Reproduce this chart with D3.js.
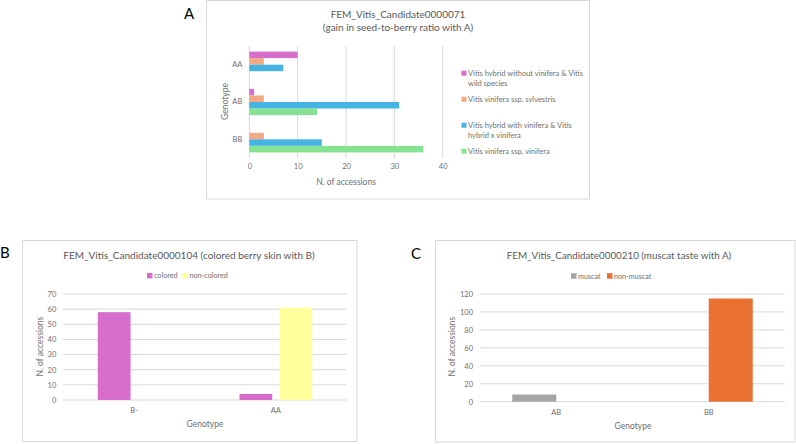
<!DOCTYPE html>
<meta charset="utf-8">
<script src="https://cdnjs.cloudflare.com/ajax/libs/d3/7.8.5/d3.min.js"></script>
<style>
body { margin: 0; background: #fff; }
text { font-family: Lato, "Open Sans", sans-serif; }
.box { fill: #fff; stroke: #d9d9d9; stroke-width: 1px; }
.grid line { stroke: #d9d9d9; stroke-width: 1px; }
.tick text { fill: #6f6f6f; }
.ttl { fill: #595959; }
.lbl { fill: #6f6f6f; }
.panel { fill: #000; font-size: 15px; }
</style>
<body>
<script>

// ---- data ----
// A: gain in seed-to-berry ratio
var genotypesA = ["AA", "AB", "BB"];
var seriesA = [
  "Vitis hybrid without vinifera & Vitis wild species",
  "Vitis vinifera ssp. sylvestris",
  "Vitis hybrid with vinifera & Vitis hybrid x vinifera",
  "Vitis vinifera ssp. vinifera"
];
var hybridNoVinifera = [10, 1, 0];
var sylvestris = [3, 3, 3];
var hybridVinifera = [7, 31, 15];
var viniferaVinifera = [0, 14, 36];
var ticksA = [0, 10, 20, 30, 40];
var colorsA = ["#d86ecc", "#f2a984", "#45b4e3", "#84e291"];

// B: colored berry skin
var genotypesB = ["B-", "AA"];
var seriesB = ["colored", "non-colored"];
var colored = [58, 4];
var nonColored = [0, 61];
var ticksB = [0, 10, 20, 30, 40, 50, 60, 70];
var colorsB = ["#d86ecc", "#ffff9b"];

// C: muscat taste
var genotypesC = ["AB", "BB"];
var seriesC = ["muscat", "non-muscat"];
var muscat = [8, 0];
var nonMuscat = [0, 115];
var ticksC = [0, 20, 40, 60, 80, 100, 120];
var colorsC = ["#a5a5a5", "#e97132"];

var width = 796, height = 444;

var svg = d3.select("body").append("svg")
    .attr("width", width)
    .attr("height", height);

// ================= panel A (horizontal bars) =================
svg.append("rect").attr("class", "box")
    .attr("x", 206.5).attr("y", 0.5).attr("width", 383).attr("height", 198.5);
svg.append("text").attr("class", "panel").attr("x", 184).attr("y", 19).text("A");

var valsA = [hybridNoVinifera, sylvestris, hybridVinifera, viniferaVinifera];

var xA = d3.scaleLinear().domain([0, 40]).range([249.3, 442.7]);
var yA = d3.scaleBand().domain(genotypesA).range([46, 158])
    .paddingInner(0.3).paddingOuter(0.15);
var subA = d3.scaleBand().domain(d3.range(seriesA.length)).range([0, yA.bandwidth()]);

var gA = svg.append("g");

gA.append("g").attr("class", "grid")
  .selectAll("line").data(ticksA).enter().append("line")
    .attr("x1", function(d) { return xA(d); })
    .attr("x2", function(d) { return xA(d); })
    .attr("y1", 46).attr("y2", 158);

genotypesA.forEach(function(gt, i) {
  gA.selectAll(null).data(valsA.map(function(v, s) { return {s: s, v: v[i]}; }))
    .enter().append("rect")
      .attr("x", xA(0))
      .attr("y", function(d) { return yA(gt) + subA(d.s); })
      .attr("width", function(d) { return xA(d.v) - xA(0); })
      .attr("height", subA.bandwidth())
      .attr("fill", function(d) { return colorsA[d.s]; });
});

var axA = gA.append("g").attr("transform", "translate(0,158)")
    .call(d3.axisBottom(xA).tickValues(ticksA).tickSize(0).tickPadding(6));
axA.select(".domain").remove();
axA.selectAll("text").attr("font-size", 7.5);

var ayA = gA.append("g").attr("transform", "translate(" + xA(0) + ",0)")
    .call(d3.axisLeft(yA).tickSize(0).tickPadding(7));
ayA.select(".domain").remove();
ayA.selectAll("text").attr("font-size", 7.5);

gA.append("text").attr("class", "ttl").attr("text-anchor", "middle")
    .attr("x", 398).attr("y", 18).attr("font-size", 10)
    .text("FEM_Vitis_Candidate0000071");
gA.append("text").attr("class", "ttl").attr("text-anchor", "middle")
    .attr("x", 398).attr("y", 31).attr("font-size", 10)
    .text("(gain in seed-to-berry ratio with A)");
gA.append("text").attr("class", "lbl").attr("text-anchor", "middle")
    .attr("x", 346).attr("y", 185).attr("font-size", 8.5)
    .text("N. of accessions");
gA.append("text").attr("class", "lbl").attr("text-anchor", "middle")
    .attr("transform", "translate(227.5,101.5) rotate(-90)").attr("font-size", 8.5)
    .text("Genotype");

// legend with wrapping
var legA = gA.append("g");
seriesA.forEach(function(name, i) {
  var y0 = 73.5 + i * 26;
  legA.append("rect").attr("x", 461.5).attr("y", y0 - 2.8)
      .attr("width", 5).attr("height", 5).attr("fill", colorsA[i]);
  var t = legA.append("text").attr("class", "lbl").attr("font-size", 7.5)
      .attr("x", 468).attr("y", y0 + 2.6);
  var words = name.split(" "), line = [];
  var ts = t.append("tspan").attr("x", 468);
  words.forEach(function(w) {
    line.push(w);
    ts.text(line.join(" "));
    if (ts.node().getComputedTextLength() > 122 && line.length > 1) {
      line.pop();
      ts.text(line.join(" "));
      line = [w];
      ts = t.append("tspan").attr("x", 468).attr("dy", 10.2).text(w);
    }
  });
});

// ================= vertical grouped bar panels =================
function columnPanel(o) {
  var g = svg.append("g");
  g.append("rect").attr("class", "box")
      .attr("x", o.box[0]).attr("y", o.box[1]).attr("width", o.box[2]).attr("height", o.box[3]);
  g.append("text").attr("class", "panel").attr("x", o.letterPos[0]).attr("y", o.letterPos[1]).text(o.letter);

  var x = d3.scaleBand().domain(o.cats).range(o.xr)
      .paddingInner(o.pad).paddingOuter(o.pad / 2);
  var xs = d3.scaleBand().domain(d3.range(o.series.length)).range([0, x.bandwidth()])
      .paddingInner(o.subPad);
  var y = d3.scaleLinear().domain([0, o.ticks[o.ticks.length - 1]]).range(o.yr);

  g.append("g").attr("class", "grid")
    .selectAll("line").data(o.ticks).enter().append("line")
      .attr("x1", o.xr[0]).attr("x2", o.xr[1])
      .attr("y1", function(d) { return y(d); })
      .attr("y2", function(d) { return y(d); });

  o.cats.forEach(function(c, i) {
    g.selectAll(null).data(o.vals.map(function(v, s) { return {s: s, v: v[i]}; }))
      .enter().append("rect")
        .attr("x", function(d) { return x(c) + xs(d.s); })
        .attr("y", function(d) { return y(d.v); })
        .attr("width", xs.bandwidth())
        .attr("height", function(d) { return y(0) - y(d.v); })
        .attr("fill", function(d) { return o.colors[d.s]; });
  });

  var ax = g.append("g").attr("transform", "translate(0," + o.yr[0] + ")")
      .call(d3.axisBottom(x).tickSize(0).tickPadding(8));
  ax.select(".domain").remove();
  ax.selectAll("text").attr("font-size", 7.5);

  var ay = g.append("g").attr("transform", "translate(" + (o.xr[0] - 7) + ",0)")
      .call(d3.axisLeft(y).tickValues(o.ticks).tickSize(0).tickPadding(0));
  ay.select(".domain").remove();
  ay.selectAll("text").attr("font-size", 7.5);

  g.append("text").attr("class", "ttl").attr("text-anchor", "middle")
      .attr("x", o.titlePos[0]).attr("y", o.titlePos[1]).attr("font-size", o.titleSize)
      .text(o.title);
  g.append("text").attr("class", "lbl").attr("text-anchor", "middle")
      .attr("x", o.xTitlePos[0]).attr("y", o.xTitlePos[1]).attr("font-size", 8.5)
      .text("Genotype");
  g.append("text").attr("class", "lbl").attr("text-anchor", "middle")
      .attr("transform", "translate(" + o.yTitlePos[0] + "," + o.yTitlePos[1] + ") rotate(-90)")
      .attr("font-size", 8.5)
      .text("N. of accessions");

  var lx = o.legendX;
  o.series.forEach(function(name, i) {
    g.append("rect").attr("x", lx[i]).attr("y", o.legendY - 2.8)
        .attr("width", 5.5).attr("height", 5.5).attr("fill", o.colors[i]);
    g.append("text").attr("class", "lbl").attr("font-size", 7.2)
        .attr("x", lx[i] + 7).attr("y", o.legendY + 2.7).text(name);
  });
}

columnPanel({
  box: [22.5, 240.5, 334.5, 201], letter: "B", letterPos: [0, 258],
  cats: genotypesB, series: seriesB, vals: [colored, nonColored], colors: colorsB,
  ticks: ticksB, xr: [63.3, 346.7], yr: [400, 294], pad: 0.487, subPad: 0.18,
  title: "FEM_Vitis_Candidate0000104 (colored berry skin with B)", titlePos: [189, 258.5], titleSize: 10,
  xTitlePos: [205, 427], yTitlePos: [42.5, 346.7],
  legendX: [147, 182.5], legendY: 275.7
});

columnPanel({
  box: [435.5, 240.5, 359.5, 201.5], letter: "C", letterPos: [411, 259],
  cats: genotypesC, series: seriesC, vals: [muscat, nonMuscat], colors: colorsC,
  ticks: ticksC, xr: [480, 785], yr: [401.7, 294], pad: 0.423, subPad: 0,
  title: "FEM_Vitis_Candidate0000210 (muscat taste with A)", titlePos: [619, 258.5], titleSize: 9.8,
  xTitlePos: [633, 429], yTitlePos: [455, 346.7],
  legendX: [571, 607], legendY: 276
});

</script>
